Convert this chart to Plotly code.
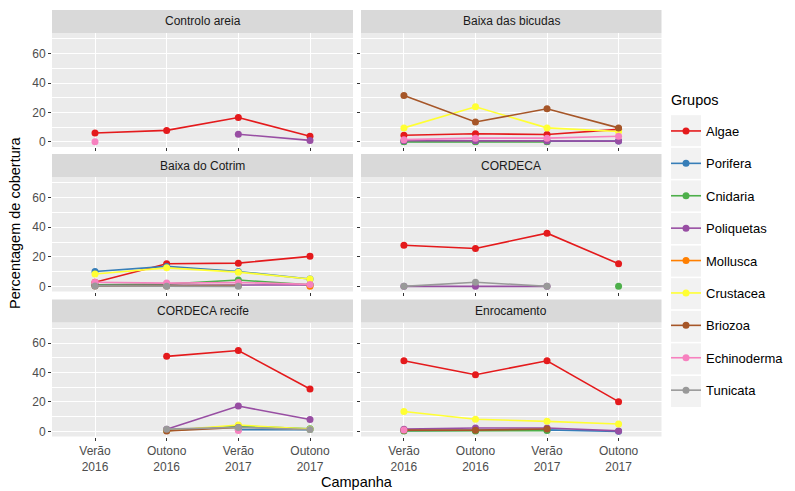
import plotly.graph_objects as go

# ---------------- data ----------------
campanhas = ["Verão<br>2016", "Outono<br>2016", "Verão<br>2017", "Outono<br>2017"]
campanha_pos = [1, 2, 3, 4]
grupos = ["Algae", "Porifera", "Cnidaria", "Poliquetas", "Mollusca",
          "Crustacea", "Briozoa", "Echinoderma", "Tunicata"]
cores = ["#E41A1C", "#377EB8", "#4DAF4A", "#984EA3", "#FF7F00",
         "#FFFF33", "#A65628", "#F781BF", "#999999"]
locais = ["Controlo areia", "Baixa das bicudas", "Baixa do Cotrim",
          "CORDECA", "CORDECA recife", "Enrocamento"]
y_ticks = [0, 20, 40, 60]

controlo_areia = {
    "Algae": [6, 7.8, 16.5, 3.8],
    "Poliquetas": [None, None, 5.2, 1],
    "Echinoderma": [0, None, None, None],
}
baixa_bicudas = {
    "Algae": [4.5, 5.5, 5, 8.5],
    "Porifera": [0.3, 0.3, 0.3, 0.5],
    "Cnidaria": [0, 0, 0, None],
    "Poliquetas": [0.8, 0.8, 0.5, 0.5],
    "Crustacea": [9.5, 23.8, 9.5, 7],
    "Briozoa": [31.5, 13.5, 22.5, 9.5],
    "Echinoderma": [1.5, 2.5, 2.5, 3.8],
}
baixa_cotrim = {
    "Algae": [2.7, 15.3, 15.7, 20.3],
    "Porifera": [10, 13.5, 10, 5],
    "Cnidaria": [1, 1.5, 4.3, 1],
    "Poliquetas": [0.5, 0.5, 1, 1],
    "Mollusca": [None, None, None, 0],
    "Crustacea": [8.3, 12.5, 9.6, 5],
    "Briozoa": [0.3, 0.3, 0.5, None],
    "Echinoderma": [2.8, 2.2, 2.6, 1.3],
    "Tunicata": [0.3, 0, 0, None],
}
cordeca = {
    "Algae": [27.8, 25.6, 36, 15.3],
    "Cnidaria": [None, None, None, 0],
    "Poliquetas": [0, 0, 0, None],
    "Tunicata": [0, 2.8, 0, None],
}
cordeca_recife = {
    "Algae": [None, 51, 55, 28.8],
    "Porifera": [None, None, 1.2, 1.2],
    "Cnidaria": [None, 0.5, 3.6, 1.8],
    "Poliquetas": [None, 1.5, 17.2, 8],
    "Crustacea": [None, 0.5, 4.3, 1.5],
    "Briozoa": [None, 0.3, 2.7, None],
    "Echinoderma": [None, None, 0.5, None],
    "Tunicata": [None, 1.5, 2.7, 1.2],
}
enrocamento = {
    "Algae": [48, 38.5, 48, 20.2],
    "Porifera": [0.5, 0.5, 1, 0],
    "Cnidaria": [0.3, 0.3, 0.5, None],
    "Poliquetas": [1.5, 2.3, 2.3, 0.3],
    "Crustacea": [13.5, 8.2, 6.8, 5],
    "Briozoa": [0.8, 0.8, 1.6, None],
    "Echinoderma": [1, None, None, None],
}
dados = [controlo_areia, baixa_bicudas, baixa_cotrim, cordeca, cordeca_recife, enrocamento]

# ---------------- layout geometry (screen pixels) ----------------
OFF = 8  # default page body margin
W, H = 795 - OFF, 491 - OFF
col_x = [(52, 353), (361, 661.5)]
row_y = [(33, 147), (177, 291.5), (322.5, 436.5)]
strip_h = 23

def px_x(v):
    return (v - OFF) / W

def px_y(v):
    return 1 - (v - OFF) / H

fig = go.Figure()
shown = set()
shapes = []
annotations = []
layout_axes = {}

for i, (local, d) in enumerate(zip(locais, dados)):
    r, c = divmod(i, 2)
    idx = "" if i == 0 else str(i + 1)
    xa, ya = "x" + idx, "y" + idx
    x0, x1 = col_x[c]
    y0, y1 = row_y[r]
    layout_axes["xaxis" + idx] = dict(
        domain=[px_x(x0), px_x(x1)], anchor=ya, range=[0.4, 4.6],
        tickvals=campanha_pos, ticktext=campanhas, showticklabels=(r == 2),
        ticks="outside", ticklen=3, tickcolor="#333333", tickwidth=1,
        showgrid=True, gridcolor="white", gridwidth=1.1, zeroline=False,
        showline=False, tickfont=dict(size=12, color="#4D4D4D"),
        fixedrange=True, automargin=False,
    )
    layout_axes["yaxis" + idx] = dict(
        domain=[px_y(y1), px_y(y0)], anchor=xa, range=[-3.5, 74],
        tickvals=y_ticks, showticklabels=(c == 0),
        ticks="outside", ticklen=3, tickcolor="#333333", tickwidth=1,
        showgrid=True, gridcolor="white", gridwidth=1.1, zeroline=False,
        showline=False, tickfont=dict(size=12, color="#4D4D4D"),
        minor=dict(tickvals=[10, 30, 50, 70], showgrid=True, gridcolor="white",
                   gridwidth=0.5, ticks=""),
        fixedrange=True, automargin=False,
    )
    # panel background
    shapes.append(dict(type="rect", xref="paper", yref="paper", layer="below",
                       x0=px_x(x0), x1=px_x(x1), y0=px_y(y1), y1=px_y(y0),
                       fillcolor="#EBEBEB", line=dict(width=0)))
    # strip
    shapes.append(dict(type="rect", xref="paper", yref="paper", layer="below",
                       x0=px_x(x0), x1=px_x(x1), y0=px_y(y0), y1=px_y(y0 - strip_h),
                       fillcolor="#D9D9D9", line=dict(width=0)))
    annotations.append(dict(text=local, xref="paper", yref="paper",
                            x=px_x((x0 + x1) / 2), y=px_y(y0 - strip_h / 2),
                            showarrow=False, xanchor="center", yanchor="middle",
                            font=dict(size=12, color="#1A1A1A")))
    for g, cor in zip(grupos, cores):
        if g not in d:
            continue
        fig.add_trace(go.Scatter(
            x=campanha_pos, y=d[g], xaxis=xa, yaxis=ya, mode="lines+markers",
            name=g, legendgroup=g, legendrank=grupos.index(g) + 1,
            showlegend=(g not in shown),
            line=dict(color=cor, width=1.6), marker=dict(color=cor, size=7),
            connectgaps=False,
        ))
        shown.add(g)

# legend key backgrounds
leg_first, leg_step = 130.7, 32.6
for k in range(len(grupos)):
    cy = leg_first + k * leg_step
    shapes.append(dict(type="rect", xref="paper", yref="paper", layer="below",
                       x0=px_x(671), x1=px_x(701), y0=px_y(cy + 15.5), y1=px_y(cy - 15.5),
                       fillcolor="#F2F2F2", line=dict(width=0)))

annotations.append(dict(text="Grupos", xref="paper", yref="paper",
                        x=px_x(669), y=px_y(100), showarrow=False,
                        xanchor="left", yanchor="middle",
                        font=dict(size=14.5, color="#000000")))
annotations.append(dict(text="Campanha", xref="paper", yref="paper",
                        x=px_x(357), y=px_y(482), showarrow=False,
                        xanchor="center", yanchor="middle",
                        font=dict(size=14.5, color="#000000")))
annotations.append(dict(text="Percentagem de cobertura", xref="paper", yref="paper",
                        x=px_x(15), y=px_y(223), showarrow=False, textangle=-90,
                        xanchor="center", yanchor="middle",
                        font=dict(size=14.5, color="#000000")))

fig.update_layout(
    width=W, height=H, margin=dict(l=0, r=0, t=0, b=0, autoexpand=False),
    paper_bgcolor="white", plot_bgcolor="rgba(0,0,0,0)",
    font=dict(family="Liberation Sans, Arial, sans-serif", color="#000000"),
    shapes=shapes, annotations=annotations,
    legend=dict(x=px_x(666), y=px_y(116), xanchor="left", yanchor="top",
                font=dict(size=13), tracegroupgap=12.5,
                bgcolor="rgba(0,0,0,0)", itemwidth=30),
    **layout_axes,
)

fig.write_html("out.html")
